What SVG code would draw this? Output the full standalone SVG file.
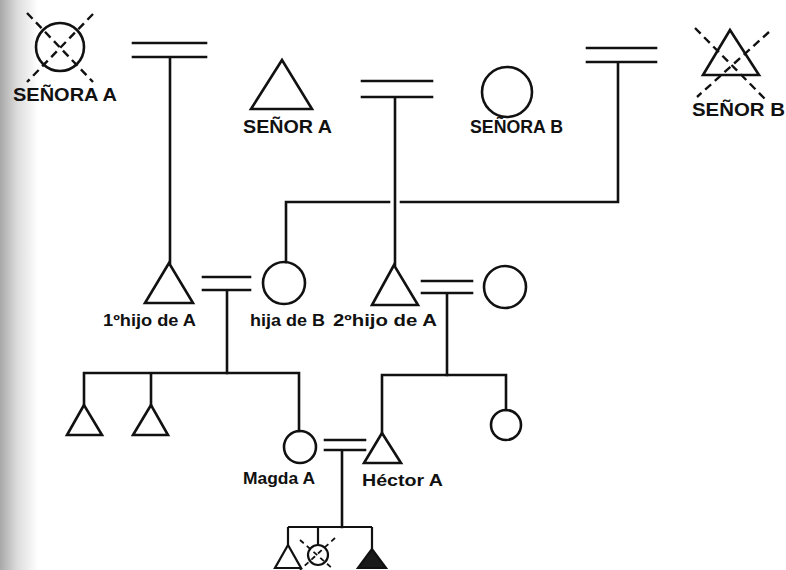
<svg xmlns="http://www.w3.org/2000/svg" width="786" height="570" viewBox="0 0 786 570">
<defs>
<linearGradient id="scan" x1="0" y1="0" x2="1" y2="0">
<stop offset="0" stop-color="#a8a8a8"/>
<stop offset="0.45" stop-color="#dcdcdc"/>
<stop offset="1" stop-color="#ffffff"/>
</linearGradient>
<style>
.ln{stroke:#111;stroke-width:2.6;fill:none;stroke-linecap:square}
.sym{stroke:#111;stroke-width:2.6;fill:none;stroke-linejoin:miter}
.sm{stroke:#111;stroke-width:2.2;fill:none}
.filled{stroke:#111;stroke-width:2.2;fill:#1a1a1a}
.dash{stroke:#111;stroke-width:2.4;stroke-dasharray:8 5;fill:none}
.dashs{stroke:#111;stroke-width:1.8;stroke-dasharray:5 4;fill:none}
.cap{font-family:"Liberation Sans",Arial,sans-serif;font-weight:bold;font-size:19px;fill:#111}
.lab{font-family:"Liberation Sans",Arial,sans-serif;font-weight:bold;font-size:16px;fill:#111}
</style>
</defs>
<rect x="0" y="0" width="786" height="570" fill="#fff"/>
<rect x="0" y="0" width="38" height="570" fill="url(#scan)"/>

<g id="connectors">
<path class="ln" d="M133 43H206M133 57H206M170 57V263"/>
<path class="ln" d="M362 81H432M362 97H432M395 97V265"/>
<path class="ln" d="M587 48H656M587 62H656M618 62V202H401M389 202H286V262"/>
<path class="ln" d="M203 277H250M203 290H250M227 290V373"/>
<path class="ln" d="M84 373H299M84 373V405M151 373V405M299 373V431"/>
<path class="ln" d="M422 281H472M422 293H472M447 293V375"/>
<path class="ln" d="M382 375H506M382 375V433M506 375V410"/>
<path class="ln" d="M325 440H365M325 450H365M342 450V527"/>
<path class="sm" d="M288 527H372M288 527V545M318 527V545M372 527V549"/>
</g>

<g id="senora-a">
<circle class="sym" cx="60" cy="47" r="24"/>
<path class="dash" d="M27 13L93 82M93 14L27 82"/>
<text class="cap" x="13" y="101" textLength="104" lengthAdjust="spacingAndGlyphs">SEÑORA A</text>
</g>

<g id="senor-a">
<path class="sym" d="M282 60L251 109H312Z"/>
<text class="cap" x="243" y="133" textLength="89" lengthAdjust="spacingAndGlyphs">SEÑOR A</text>
</g>

<g id="senora-b">
<circle class="sym" cx="507" cy="92" r="25"/>
<text class="cap" x="470" y="133" textLength="93" lengthAdjust="spacingAndGlyphs">SEÑORA B</text>
</g>

<g id="senor-b">
<path class="sym" d="M730 30L703 75H759Z"/>
<path class="dash" d="M695 28L768 102M769 32L697 97"/>
<text class="cap" x="692" y="116" textLength="93" lengthAdjust="spacingAndGlyphs">SEÑOR B</text>
</g>

<g id="hijo1-a">
<path class="sym" d="M169 263L145 303H193Z"/>
<text class="lab" x="103" y="326" textLength="93" lengthAdjust="spacingAndGlyphs">1ºhijo de A</text>
</g>

<g id="hija-b">
<circle class="sym" cx="284" cy="283" r="21"/>
<text class="lab" x="250" y="326" textLength="75" lengthAdjust="spacingAndGlyphs">hija de B</text>
</g>

<g id="hijo2-a">
<path class="sym" d="M394 265L372 305H418Z"/>
<text class="lab" x="333" y="326" textLength="104" lengthAdjust="spacingAndGlyphs">2ºhijo de A</text>
</g>

<g id="esposa-hijo2">
<circle class="sym" cx="505" cy="287" r="21"/>
</g>

<g id="hijo-1a">
<path class="sym" d="M84 405L67 435H102Z"/>
</g>

<g id="hijo-1b">
<path class="sym" d="M151 405L133 435H168Z"/>
</g>

<g id="magda-a">
<circle class="sym" cx="300" cy="447" r="16"/>
<text class="lab" x="243" y="484" textLength="72" lengthAdjust="spacingAndGlyphs">Magda A</text>
</g>

<g id="hector-a">
<path class="sym" d="M382 433L364 463H401Z"/>
<text class="lab" x="362" y="486" textLength="81" lengthAdjust="spacingAndGlyphs">Héctor A</text>
</g>

<g id="hija-2">
<circle class="sym" cx="506" cy="425" r="15"/>
</g>

<g id="nieto-1">
<path class="sm" d="M288 545L275 568H301Z"/>
</g>

<g id="nieta-2">
<circle class="sm" cx="318" cy="555" r="10"/>
<path class="dashs" d="M300 540L333 569M335 538L300 570"/>
</g>

<g id="nieto-3">
<path class="filled" d="M372 549L358 568H386Z"/>
</g>
</svg>
